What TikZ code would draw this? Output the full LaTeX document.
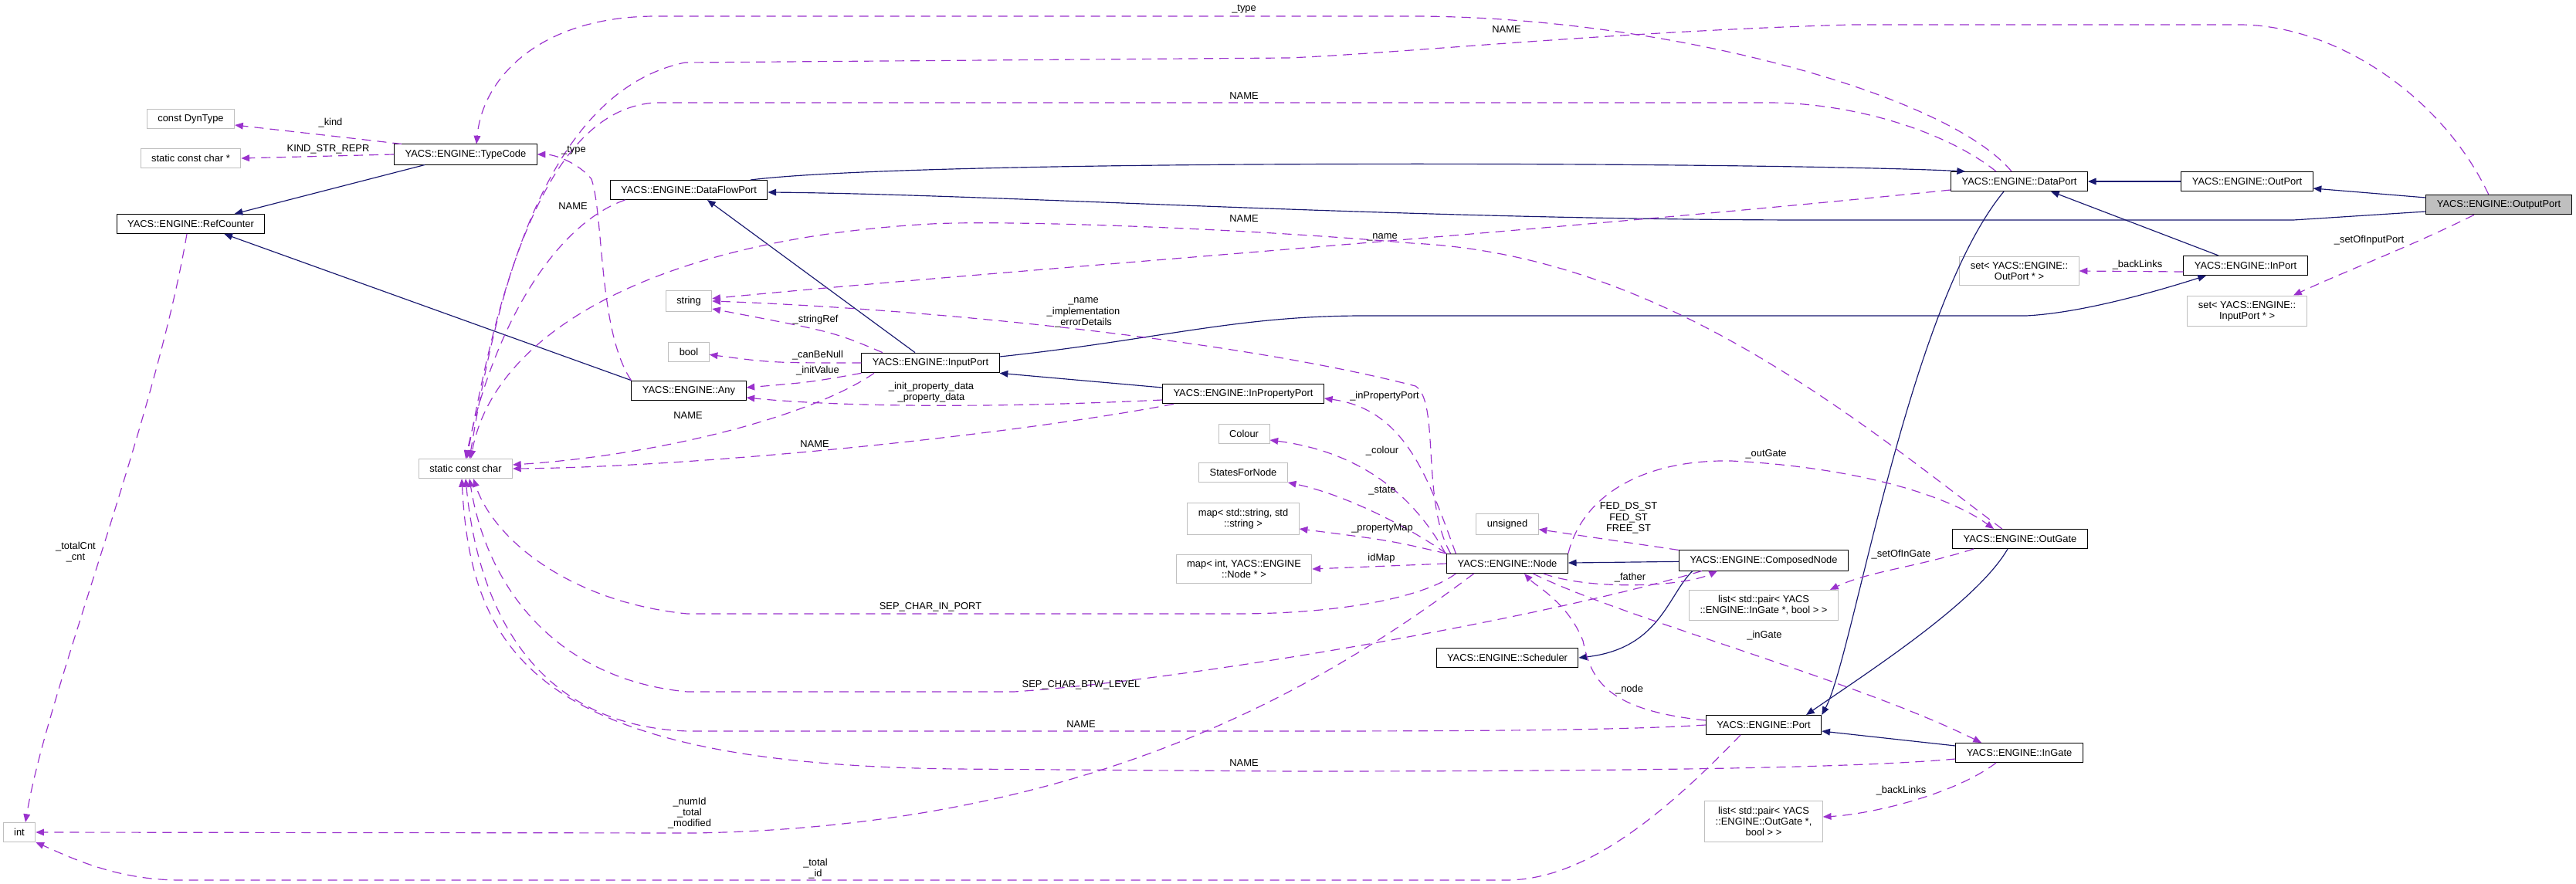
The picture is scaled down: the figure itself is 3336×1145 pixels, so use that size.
\documentclass[tikz,border=0pt]{standalone}
\usepackage{fontspec}
\setmainfont{Liberation Sans}
\usetikzlibrary{arrows.meta}

\definecolor{edgeblue}{RGB}{25,25,112}
\definecolor{edgepurple}{RGB}{154,50,205}
\definecolor{boxgray}{RGB}{191,191,191}

\begin{document}
\begin{tikzpicture}[x=0.3mm, y=-0.3mm,
  font=\fontsize{11}{12.2}\selectfont,
  cls/.style={draw=black, fill=white, line width=0.3mm, minimum height=7.5mm,
    inner xsep=4.2mm, inner ysep=2.1mm, align=center},
  ext/.style={cls, draw=boxgray},
  lbl/.style={inner sep=0pt, align=center},
  inh/.style={draw=edgeblue, line width=0.35mm, -{Triangle[length=3.2mm,width=2.6mm]}},
  usg/.style={draw=edgepurple, line width=0.35mm, dash pattern=on 3.6mm off 2.4mm,
    -{Triangle[length=3.2mm,width=2.6mm]}}]

\useasboundingbox (0,0) rectangle (3336,1145);

% ---------- Classes ----------
\node[cls] (typecode) at (603,200) {YACS::ENGINE::TypeCode};
\node[cls] (refcnt) at (247,290) {YACS::ENGINE::RefCounter};
\node[cls] (dflport) at (892,246) {YACS::ENGINE::DataFlowPort};
\node[cls] (dataport) at (2615,235) {YACS::ENGINE::DataPort};
\node[cls] (outport) at (2910,235) {YACS::ENGINE::OutPort};
\node[cls, fill=boxgray] (outputport) at (3236,265) {YACS::ENGINE::OutputPort};
\node[cls] (inport) at (2908,344) {YACS::ENGINE::InPort};
\node[cls] (any) at (892,506) {YACS::ENGINE::Any};
\node[cls] (inputport) at (1205,470) {YACS::ENGINE::InputPort};
\node[cls] (inpropport) at (1610,510) {YACS::ENGINE::InPropertyPort};
\node[cls] (yacsnode) at (1952,730) {YACS::ENGINE::Node};
\node[cls] (compnode) at (2284,726) {YACS::ENGINE::ComposedNode};
\node[cls] (scheduler) at (1952,852) {YACS::ENGINE::Scheduler};
\node[cls] (port) at (2284,939) {YACS::ENGINE::Port};
\node[cls] (outgate) at (2616,698) {YACS::ENGINE::OutGate};
\node[cls] (ingate) at (2615,975) {YACS::ENGINE::InGate};

% ---------- Member types ----------
\node[ext] (dyntype) at (247,154) {const DynType};
\node[ext] (scstar) at (247,205) {static const char *};
\node[ext] (scc) at (603,607) {static const char};
\node[ext] (string) at (892,390) {string};
\node[ext] (bool) at (892,456) {bool};
\node[ext] (colour) at (1611,562) {Colour};
\node[ext] (states) at (1610,612) {StatesForNode};
\node[ext] (mapstr) at (1610,672) {map< std::string, std\\::string >};
\node[ext] (mapint) at (1611,737) {map< int, YACS::ENGINE\\::Node * >};
\node[ext] (unsigned) at (1952,679) {unsigned};
\node[ext] (setout) at (2615,351) {set< YACS::ENGINE::\\OutPort * >};
\node[ext] (setin) at (2910,403) {set< YACS::ENGINE::\\InputPort * >};
\node[ext] (listin) at (2284,784) {list< std::pair< YACS\\::ENGINE::InGate *, bool > >};
\node[ext] (listout) at (2284,1064) {list< std::pair< YACS\\::ENGINE::OutGate *,\\bool > >};
\node[ext] (int) at (25,1078) {int};

% ---------- Inheritance ----------
\draw[inh] ([xshift=12mm]typecode.south west) -- ([xshift=17mm]refcnt.north);
\draw[inh] (any.north west) -- ([xshift=13mm]refcnt.south);
\draw[inh] ([xshift=-6mm]inputport.north) -- ([xshift=7.2mm]dflport.south);
\draw[inh] ([xshift=24mm]dflport.north) .. controls (1200,205) and (2300,210) .. ([xshift=-21mm]dataport.north);
\draw[inh] ([yshift=-2.7mm]outputport.west) -- (2970,285) -- (2330,285) .. controls (1800,284) and (1300,252) .. ([yshift=-0.9mm]dflport.east);
\draw[inh] (outport) -- (dataport);
\draw[inh] ([yshift=2.7mm]outputport.west) -- ([yshift=-2.7mm]outport.east);
\draw[inh] ([xshift=-10.5mm]inport.north) -- ([xshift=12.3mm]dataport.south);
\draw[inh] ([yshift=2.4mm]inputport.east) .. controls (1500,440) and (1600,409) .. (1766,409) -- (2624,409) .. controls (2700,405) and (2800,375) .. ([xshift=-15.3mm]inport.south);
\draw[inh] ([yshift=2.4mm]inpropport.west) -- (inputport.south east);
\draw[inh] (compnode) -- (yacsnode);
\draw[inh] ([xshift=-27.6mm]compnode.south) .. controls (2160,770) and (2150,840) .. (scheduler.east);
\draw[inh] ([xshift=-6mm]dataport.south) .. controls (2470,400) and (2400,850) .. (port.north east);
\draw[inh] ([xshift=-4.8mm]outgate.south) .. controls (2560,780) and (2420,870) .. ([xshift=16.5mm]port.north);
\draw[inh] ([yshift=2.7mm]ingate.west) -- ([yshift=-2.4mm]port.east);

% ---------- Usage ----------
\draw[usg] ([xshift=3mm]typecode.north west) .. controls (420,175) .. ([yshift=-2.4mm]dyntype.east);
\draw[usg] (typecode.west) -- (scstar.east);
\draw[usg] ([xshift=-1.5mm]refcnt.south) .. controls (200,550) and (60,900) .. ([xshift=2.4mm]int.north);
\draw[usg] ([xshift=-3mm]dataport.north) .. controls (2520,120) and (2150,21) .. (1828,21) -- (850,21) .. controls (700,21) and (625,100) .. ([xshift=4.2mm]typecode.north);
\draw[usg] (any.north west) .. controls (775,430) and (782,280) .. (766,232) .. controls (750,212) and (720,200) .. (typecode.east);

% NAME links into static const char
\draw[usg] ([xshift=-4mm]outputport.north) .. controls (3160,120) and (3020,32) .. (2900,32) -- (2400,32) .. controls (2100,40) and (1800,70) .. (1668,75) -- (887,81) .. controls (700,120) and (640,400) .. ([xshift=1.5mm]scc.north);
\draw[usg] ([xshift=-9mm]dataport.north) .. controls (2520,170) and (2400,133) .. (2290,133) -- (850,133) .. controls (700,140) and (640,400) .. ([xshift=0.5mm]scc.north);
\draw[usg] ([xshift=6mm]dflport.south west) .. controls (720,290) and (640,420) .. (scc.north);
\draw[usg] ([xshift=-7mm]outgate.north) .. controls (2400,540) and (2150,330) .. (1828,315) .. controls (1600,295) and (1300,285) .. (1206,290) .. controls (850,310) and (640,430) .. ([xshift=2mm]scc.north);
\draw[usg] ([xshift=-21.9mm]inputport.south) .. controls (1050,540) and (850,590) .. ([yshift=1.5mm]scc.east);
\draw[usg] ([xshift=-27mm]inpropport.south) .. controls (1300,565) and (900,605) .. (scc.east);
\draw[usg] ([xshift=-20mm]yacsnode.south) .. controls (1850,770) and (1750,795) .. (1600,795) -- (890,795) .. controls (740,780) and (640,700) .. ([xshift=3mm]scc.south);
\draw[usg] ([xshift=-24mm]compnode.south) .. controls (2000,800) and (1550,880) .. (1313,896) -- (890,896) .. controls (720,880) and (630,760) .. ([xshift=1.5mm]scc.south);
\draw[usg] (port.west) .. controls (2100,946) and (1900,947) .. (1668,947) -- (890,947) .. controls (700,940) and (620,800) .. (scc.south);
\draw[usg] ([yshift=-2.4mm]ingate.west) .. controls (2400,995) and (2100,999) .. (1668,999) -- (1238,996) .. controls (700,990) and (610,850) .. ([xshift=-1.5mm]scc.south);

% string, bool, Any
\draw[usg] ([yshift=-3.3mm]dataport.west) .. controls (2000,300) and (1300,350) .. ([yshift=1mm]string.east);
\draw[usg] ([xshift=-22mm]yacsnode.north) .. controls (1840,650) and (1865,520) .. (1833,500) .. controls (1600,440) and (1200,400) .. (string.east);
\draw[usg] ([xshift=-18.6mm]inputport.north) .. controls (1080,430) .. ([yshift=-3mm]string.east);
\draw[usg] (inputport.west) .. controls (1000,470) .. ([yshift=-1mm]bool.east);
\draw[usg] (inputport.south west) .. controls (1050,495) .. ([yshift=1.2mm]any.east);
\draw[usg] ([yshift=-2.4mm]inpropport.west) .. controls (1300,528) and (1100,528) .. ([yshift=-2.7mm]any.east);

% Node members
\draw[usg] ([xshift=-20mm]yacsnode.north) .. controls (1850,620) and (1820,530) .. ([yshift=-1.8mm]inpropport.east);
\draw[usg] ([xshift=-24mm]yacsnode.north) .. controls (1830,640) and (1760,585) .. ([yshift=-2.4mm]colour.east);
\draw[usg] (yacsnode.north west) .. controls (1820,680) and (1740,640) .. (states.south east);
\draw[usg] (yacsnode.north west) .. controls (1800,700) .. ([yshift=-3.9mm]mapstr.east);
\draw[usg] (yacsnode.west) -- (mapint.east);
\draw[usg] (compnode.north west) -- ([yshift=-2mm]unsigned.east);
\draw[usg] (yacsnode.north east) .. controls (2050,640) and (2130,595) .. (2242,597) .. controls (2400,605) and (2520,640) .. ([xshift=-10.2mm]outgate.north);
\draw[usg] ([xshift=14mm]yacsnode.south) .. controls (2060,765) and (2180,760) .. ([xshift=-18mm]compnode.south);
\draw[usg] ([xshift=-18mm]outgate.south) .. controls (2480,735) and (2420,740) .. ([xshift=25.8mm]listin.north);
\draw[usg] ([yshift=1.8mm]port.west) .. controls (2080,920) and (2060,880) .. (2050,830) .. controls (2030,780) and (1990,760) .. ([xshift=6.6mm]yacsnode.south);
\draw[usg] ([xshift=10mm]yacsnode.south) .. controls (2100,800) and (2400,880) .. ([xshift=-14.7mm]ingate.north);
\draw[usg] ([xshift=-9mm]ingate.south) .. controls (2530,1030) and (2420,1055) .. ([yshift=1.8mm]listout.east);
\draw[usg] ([xshift=-13mm]yacsnode.south) .. controls (1700,900) and (1400,1070) .. (900,1079) -- (int.east);
\draw[usg] ([xshift=-9mm]port.south) .. controls (2150,1060) and (2050,1140) .. (1950,1140) -- (234,1140) .. controls (150,1140) and (90,1110) .. (int.south east);
\draw[usg] ([yshift=-2.4mm]inport.west) -- (setout.east);
\draw[usg] ([xshift=-9.6mm]outputport.south) .. controls (3120,320) and (3040,350) .. ([xshift=18mm]setin.north);

% ---------- Edge labels ----------
\node[lbl] (lkind) at (428,159) {\_kind};
\node[lbl] (lkindrepr) at (425,193) {KIND\_STR\_REPR};
\node[lbl] (ltypedp) at (1611,12) {\_type};
\node[lbl] (ltypeany) at (743,195) {\_type};
\node[lbl] (lnameout) at (1951,38) {NAME};
\node[lbl] (lnamedp) at (1611,124) {NAME};
\node[lbl] (lnamedfp) at (742,267) {NAME};
\node[lbl] (lnameog) at (1611,283) {NAME};
\node[lbl] (lnamestr) at (1790,307) {\_name};
\node[lbl] (lcnt) at (98,715) {\_totalCnt\\\_cnt};
\node[lbl] (lnodestr) at (1403,405) {\_name\\\_implementation\\\_errorDetails};
\node[lbl] (lstringref) at (1056,414) {\_stringRef};
\node[lbl] (lcanbenull) at (1059,460) {\_canBeNull};
\node[lbl] (linitvalue) at (1059,480) {\_initValue};
\node[lbl] (lnameip) at (891,538) {NAME};
\node[lbl] (lpropdata) at (1206,508) {\_init\_property\_data\\\_property\_data};
\node[lbl] (lnameipp) at (1055,575) {NAME};
\node[lbl] (linpp) at (1793,513) {\_inPropertyPort};
\node[lbl] (lcolour) at (1790,584) {\_colour};
\node[lbl] (lstate) at (1790,636) {\_state};
\node[lbl] (lpropmap) at (1790,684) {\_propertyMap};
\node[lbl] (lidmap) at (1789,723) {idMap};
\node[lbl] (loutgate) at (2287,588) {\_outGate};
\node[lbl] (lstates) at (2109,671) {FED\_DS\_ST\\FED\_ST\\FREE\_ST};
\node[lbl] (lfather) at (2111,748) {\_father};
\node[lbl] (lsetingate) at (2462,718) {\_setOfInGate};
\node[lbl] (lsepin) at (1205,786) {SEP\_CHAR\_IN\_PORT};
\node[lbl] (lsepbtw) at (1400,887) {SEP\_CHAR\_BTW\_LEVEL};
\node[lbl] (lnameport) at (1400,938) {NAME};
\node[lbl] (lnameig) at (1611,988) {NAME};
\node[lbl] (lnumid) at (893,1053) {\_numId\\\_total\\\_modified};
\node[lbl] (ltotalid) at (1056,1125) {\_total\\\_id};
\node[lbl] (lingate) at (2285,823) {\_inGate};
\node[lbl] (lnode) at (2110,893) {\_node};
\node[lbl] (lbacklinksg) at (2462,1024) {\_backLinks};
\node[lbl] (lbacklinksp) at (2768,343) {\_backLinks};
\node[lbl] (lsetinput) at (3068,311) {\_setOfInputPort};

\end{tikzpicture}
\end{document}
